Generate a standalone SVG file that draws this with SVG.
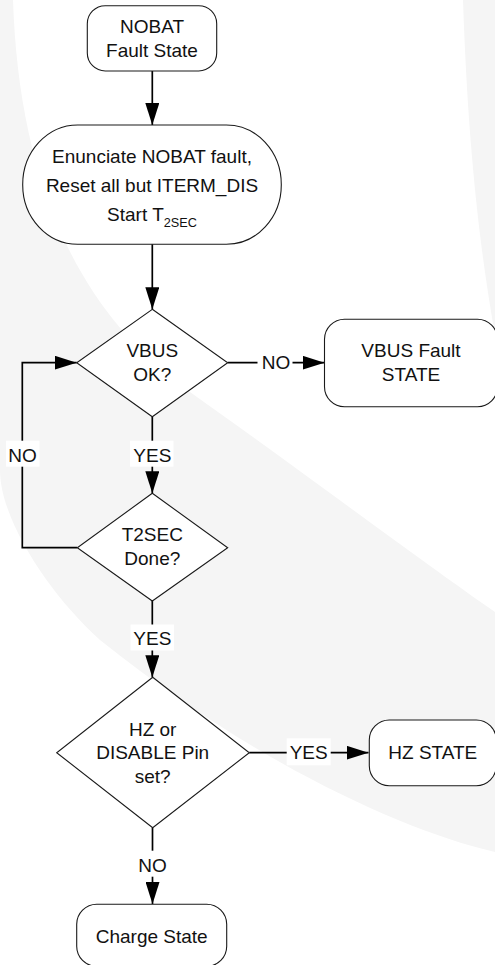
<svg xmlns="http://www.w3.org/2000/svg" width="495" height="965" viewBox="0 0 495 965">
<defs>
<style>
.bg{fill:#f5f5f5;stroke:none}
.shape{fill:#fff;stroke:#1a1a1a;stroke-width:1.1}
.conn{fill:none;stroke:#000;stroke-width:1.7}
.lblbg{fill:#fff;stroke:none}
text{font-family:"Liberation Sans",Arial,Helvetica,sans-serif;font-size:19px;fill:#111;text-anchor:middle}
</style>
<marker id="arr" markerUnits="userSpaceOnUse" markerWidth="22" markerHeight="14" refX="22" refY="7" orient="auto">
<path d="M0,0 L22,7 L0,14 Z" fill="#000"/>
</marker>
</defs>
<rect width="495" height="965" fill="#fff"/>
<g id="watermark">
<path class="bg" d="M0,0 L13,0 C18,150 60,300 190,392 C300,470 420,560 495,612 L495,852 C400,830 250,760 100,640 C50,595 0,520 0,470 Z"/>
<path class="bg" d="M463,0 L495,0 L495,335 C480,250 468,150 463,0 Z"/>
</g>
<g id="connectors">
<line class="conn" x1="152.3" y1="71" x2="152.3" y2="125" marker-end="url(#arr)"/>
<line class="conn" x1="152.3" y1="244" x2="152.3" y2="309.3" marker-end="url(#arr)"/>
<line class="conn" x1="227.7" y1="362.7" x2="324.5" y2="362.7" marker-end="url(#arr)"/>
<line class="conn" x1="152.3" y1="416.7" x2="152.3" y2="493.3" marker-end="url(#arr)"/>
<polyline class="conn" points="77.3,547.7 22.3,547.7 22.3,362.7 76.7,362.7" marker-end="url(#arr)"/>
<line class="conn" x1="152.3" y1="601" x2="152.3" y2="677.3" marker-end="url(#arr)"/>
<line class="conn" x1="249.3" y1="752.7" x2="368.5" y2="752.7" marker-end="url(#arr)"/>
<line class="conn" x1="152.5" y1="827.7" x2="152.5" y2="904" marker-end="url(#arr)"/>
<rect class="lblbg" x="257.5" y="349" width="35" height="26"/>
<text x="276" y="369.3">NO</text>
<rect class="lblbg" x="130" y="440.7" width="43.5" height="26"/>
<text x="152.3" y="461.7">YES</text>
<rect class="lblbg" x="6" y="440.7" width="33.5" height="26"/>
<text x="22.5" y="461.7">NO</text>
<rect class="lblbg" x="130.5" y="624.5" width="43.5" height="26"/>
<text x="152.3" y="645">YES</text>
<rect class="lblbg" x="286.7" y="738.3" width="44" height="27"/>
<text x="308.7" y="759">YES</text>
<rect class="lblbg" x="135" y="850.7" width="35" height="26"/>
<text x="152.5" y="871.7">NO</text>
</g>
<g id="nobat">
<rect class="shape" x="87.3" y="5.7" width="129.4" height="65.3" rx="18" ry="18"/>
<text x="152" y="33.3">NOBAT</text>
<text x="152" y="57">Fault State</text>
</g>
<g id="enunciate">
<rect class="shape" x="22.7" y="125" width="258.6" height="119.3" rx="55" ry="59.6"/>
<text x="152" y="162.7">Enunciate NOBAT fault,</text>
<text x="152" y="191.7">Reset all but ITERM_DIS</text>
<text x="152" y="221">Start T<tspan font-size="12.7" dy="5.5">2SEC</tspan></text>
</g>
<g id="vbus-ok">
<polygon class="shape" points="152.3,309.3 227.7,362.7 152.3,416.7 76.7,362.7"/>
<text x="152.3" y="356.7">VBUS</text>
<text x="152.3" y="380.7">OK?</text>
</g>
<g id="vbus-fault">
<rect class="shape" x="324.5" y="319.3" width="173" height="87.4" rx="20" ry="20"/>
<text x="411" y="356.7">VBUS Fault</text>
<text x="411" y="380.7">STATE</text>
</g>
<g id="t2sec">
<polygon class="shape" points="152.3,493.3 227.7,547.7 152.3,601 77.3,547.7"/>
<text x="152.3" y="541">T2SEC</text>
<text x="152.3" y="565">Done?</text>
</g>
<g id="hz-dis">
<polygon class="shape" points="152.7,677.3 249.3,752.7 152.7,827.7 56.7,752.7"/>
<text x="152.7" y="735.7">HZ or</text>
<text x="152.7" y="759">DISABLE Pin</text>
<text x="152.7" y="782.7">set?</text>
</g>
<g id="hz-state">
<rect class="shape" x="369.3" y="720" width="127" height="65.7" rx="20" ry="20"/>
<text x="432.8" y="759">HZ STATE</text>
</g>
<g id="charge">
<rect class="shape" x="76.7" y="904.3" width="150" height="62" rx="20" ry="20"/>
<text x="151.7" y="942.7">Charge State</text>
</g>
</svg>
